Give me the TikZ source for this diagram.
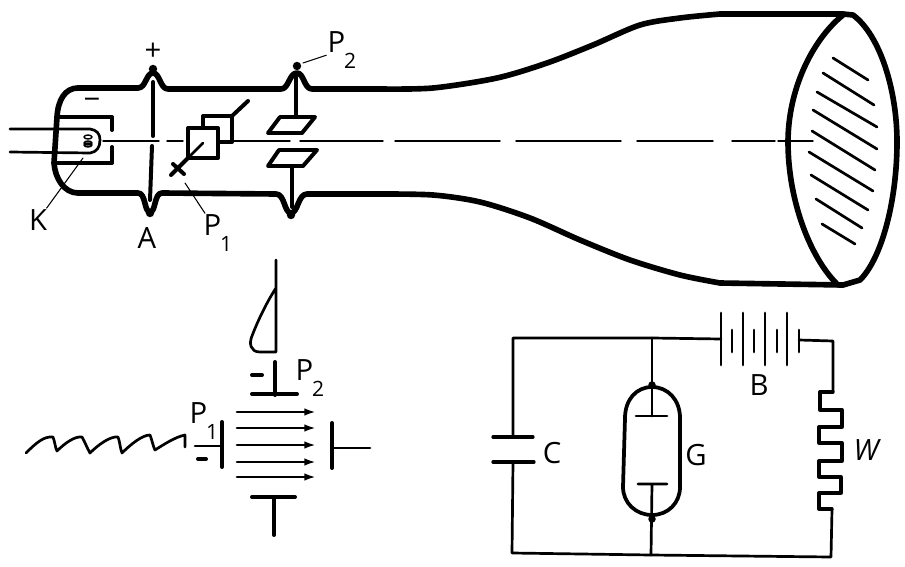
\documentclass[tikz,border=0pt]{standalone}
\usepackage{fontspec}
\setmainfont{Open Sans}
\usepackage{tikz}
\usetikzlibrary{arrows.meta}
\begin{document}
\begin{tikzpicture}[x=0.03cm,y=-0.03cm,line join=round,line cap=round]
    \tikzset{
        tube/.style={line width=4.8pt},
        plate/.style={line width=3.4pt},
        wire/.style={line width=2.3pt},
        beam/.style={line width=1.2pt},
        leader/.style={line width=0.9pt},
        lab/.style={inner sep=1pt,font=\fontsize{25}{27}\selectfont},
    }
    \newcommand{\subno}[1]{\kern-1pt\raisebox{-1ex}{\fontsize{18}{19}\selectfont #1}}
    \useasboundingbox (0,0) rectangle (905,567);
    % tube
    \draw [tube] (78,88) -- (138,88) .. controls (146,88) and (146,73) .. (153,73) .. controls (160,73) and (160,89) .. (168,89) -- (281,89) .. controls (289,89) and (289,73) .. (297,73) .. controls (304,73) and (304,89) .. (312,89) -- (380,89);
    \draw [tube] (78,193) -- (138,193) .. controls (146,193) and (144,212) .. (150,212) .. controls (156,212) and (154,193) .. (162,193) -- (276,194) .. controls (285,194) and (284,213) .. (291,213) .. controls (298,213) and (298,194) .. (307,194) -- (380,194);
    \draw [tube] (78,88) .. controls (65,88) and (58,100) .. (57,117) -- (54,163) .. controls (55,178) and (64,193) .. (78,193);
    \draw [tube] plot [smooth] coordinates {(380,89) (433,88) (497,78) (547,63) (593,45) (640,25) (680,18) (720,14)} -- (843,14);
    \draw [tube] plot [smooth] coordinates {(380,194) (433,195) (480,202) (530,218) (580,240) (630,260) (680,275) (720,283)} -- (843,285);
    \draw [tube] (843,15) .. controls (812,40) and (788,90) .. (788,142) .. controls (788,200) and (810,258) .. (838,285);
    \draw [tube] (843,14) -- (853,15) .. controls (880,35) and (897,90) .. (897,142) .. controls (897,200) and (882,258) .. (860,280) -- (843,285);
    \foreach \xa/\ya/\xb/\yb in {833/58/868/80,823/73/874/105,817/92/877/127,813/110/877/149,812/131/875/170,809/152/873/191,811/175/868/210,816/199/862/228,822/224/855/244}
        \draw [wire] (\xa,\ya) -- (\xb,\yb);
    \foreach \xa/\xb in {103/159,167/183,233/290,300/383,395/500,516/621,637/713,732/775,778/785,790/813}
        \draw [beam] (\xa,141) -- (\xb,141);
    % cathode
    \draw [plate] (57,117) -- (112,117) -- (112,130);
    \draw [plate] (55,163) -- (112,163) -- (112,147);
    \draw [wire] (10,129) -- (90,129) .. controls (97,130) and (100,134) .. (100,140) .. controls (100,147) and (97,152) .. (90,153) -- (10,152);
    \draw [beam] (88,137) ellipse (4 and 2) (88,143) ellipse (4 and 2) (88,145) ellipse (4 and 2);
    % anode
    \draw [plate] (153,82) -- (153,136);
    \draw [plate] (152,146) -- (150,200);
    \fill (153,69) circle (3.6pt) (150,213) circle (3.6pt) (297,66) circle (3.6pt) (291,215) circle (3.6pt);
    % deflection plates
    \draw [plate] (203,128) -- (203,116) -- (232,116) -- (232,142) -- (218,142);
    \draw [plate] (232,116) -- (248,101);
    \draw [plate,fill=white] (188,128) rectangle (218,158);
    \draw [wire] (203,143) -- (188,158);
    \draw [plate] (188,158) -- (171,175) (173,164) -- (184,174);
    \draw [plate] (268,133) -- (280,117) -- (315,117) -- (302,133) -- cycle;
    \draw [plate] (268,166) -- (279,150) -- (317,150) -- (303,166) -- cycle;
    \draw [plate] (296,77) -- (296,117) (292,166) -- (292,207);
    % labels of the tube
    \node [lab] (plus) at (153,52) {+};
    \node [lab] (minus) at (92,104) {−};
    \node [lab] (labK) at (38,220) {K};
    \node [lab] (labA) at (147,238) {A};
    \node [lab] (labPa) at (218,233) {P\subno{1}};
    \node [lab] (labPb) at (342,50) {P\subno{2}};
    \coordinate (endK) at (83,158);
    \coordinate (endPa) at (185,183);
    \coordinate (endPb) at (303,63);
    \draw [leader] (labK) -- (endK);
    \draw [leader] (labPa) -- (endPa);
    \draw [leader] (labPb) -- (endPb);
    % plates seen from the front
    \draw [wire] (276,260) -- (276,352) -- (260,352) .. controls (250,352) and (249,343) .. (252,336) .. controls (258,320) and (268,300) .. (276,288);
    \draw [plate] (275,362) -- (275,395) (252,394) -- (297,394);
    \draw [plate] (222,422) -- (222,467) (332,423) -- (332,468) (252,497) -- (295,497) (274,497) -- (274,535);
    \draw [wire] (195,446) -- (222,446) (332,448) -- (370,448);
    \foreach \yy in {412,428,445,462,477}
        \draw [wire,-{Latex[length=10pt,width=6.5pt]}] (237,\yy) -- (316,\yy);
    \draw [plate] (252,375) -- (262,375) (198,459) -- (206,459);
    \draw [wire] (26,453) .. controls (36,443) and (44,436) .. (53,437) .. controls (55,442) and (55,447) .. (57,451) .. controls (65,443) and (75,436) .. (82,437) .. controls (85,442) and (87,448) .. (90,453) .. controls (98,445) and (110,436) .. (118,437) .. controls (120,442) and (120,448) .. (122,453) .. controls (130,445) and (142,435) .. (150,435) .. controls (152,440) and (153,446) .. (155,450) .. controls (163,445) and (175,437) .. (185,435) -- (185,447);
    \node [lab] (labPc) at (204,421) {P\subno{1}};
    \node [lab] (labPd) at (310,378) {P\subno{2}};
    % circuit
    \coordinate (tl) at (513,338);
    \coordinate (tm) at (652,338);
    \coordinate (bl) at (512,553);
    \coordinate (bm) at (651,555);
    \coordinate (br) at (831,557);
    \coordinate (tr) at (833,341);
    \draw [wire] (721,339) -- (tm) -- (tl) -- (513,437);
    \draw [wire] (513,462) -- (bl) -- (bm) -- (br) -- (832,509);
    \draw [wire] (799,340) -- (tr) -- (833,392);
    \draw [wire] (tm) -- (652,387) -- (652,416) (636,416) -- (667,416);
    \draw [wire] (bm) -- (652,484) (638,484) -- (667,484);
    \draw [wire,line width=2.8pt] (493,437) -- (533,437) (493,462) -- (534,462);
    \foreach \xx in {721,743,765,787}
        \draw [wire] (\xx,313) -- (\xx,365);
    \foreach \xx in {732,754,777,799}
        \draw [wire] (\xx,330) -- (\xx,352);
    \draw [line width=2.8pt] (833,392) -- (820,392) -- (820,410) -- (842,410) -- (842,427) -- (819,427) -- (819,443) -- (842,443) -- (842,461) -- (819,461) -- (819,477) -- (841,477) -- (841,493) -- (819,493) -- (819,509) -- (832,509);
    \draw [line width=3.2pt] (652,387) .. controls (636,387) and (625,400) .. (625,418) -- (623,487) .. controls (623,503) and (636,515) .. (652,515) .. controls (668,515) and (680,503) .. (680,487) -- (680,418) .. controls (680,400) and (668,387) .. (652,387);
    \fill (652,385) circle (3.2pt) (652,519) circle (3.2pt);
    \node [lab] (labC) at (552,453) {C};
    \node [lab] (labG) at (696,455) {G};
    \node [lab] (labB) at (759,385) {B};
    \node [lab,font=\fontsize{25}{27}\selectfont\itshape] (labW) at (866,450) {W};
\end{tikzpicture}
\end{document}
